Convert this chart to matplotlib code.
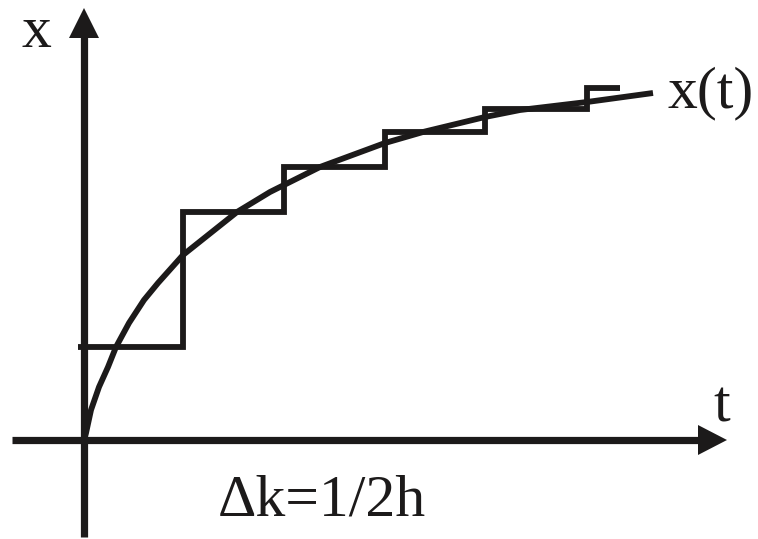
import numpy as np
import matplotlib.pyplot as plt

# curve x(t) (t to the right, x upwards, origin at the axes crossing)
curve_t = [0, 2, 7, 15, 24, 32, 45, 60, 74, 99, 153, 186, 236, 301, 339, 401, 436, 503, 569]
curve_x = [0, 7, 30, 53, 73, 93, 117, 140, 157, 185, 228, 248, 273, 297, 308, 323, 330, 338, 347]

# staircase approximation
step_edges = [-6, 99, 200, 301, 401, 503, 536]
step_levels = [93, 228, 273, 308, 331, 352]

ink = '#1c1a1a'
fnt = 'Liberation Serif'

fig = plt.figure(figsize=(7.58, 5.39), dpi=100)
ax = fig.add_axes([0, 0, 1, 1])
ax.set_xlim(-84, 674)
ax.set_ylim(-99, 440)
ax.axis('off')

# axes with arrow heads
ax.plot([-72, 616], [0, 0], color=ink, lw=5.2, solid_capstyle='butt')
ax.fill([614, 643, 614], [-15, 0, 15], color=ink, lw=0)
ax.plot([0, 0], [-97, 404], color=ink, lw=5.2, solid_capstyle='butt')
ax.fill([-15, 0, 15], [402, 432, 402], color=ink, lw=0)

ax.stairs(step_levels, step_edges, baseline=None, color=ink, lw=4.2, joinstyle='miter')
ax.plot(curve_t, curve_x, color=ink, lw=4.2, solid_joinstyle='round', solid_capstyle='butt')

ax.text(-48, 393, 'x', fontsize=43, family=fnt, color=ink, ha='center', va='baseline')
ax.text(638, 18, 't', fontsize=43, family=fnt, color=ink, ha='center', va='baseline')
ax.text(584, 333, 'x(t)', fontsize=43, family=fnt, color=ink, ha='left', va='baseline')
ax.text(134, -75, 'Δk=1/2h', fontsize=43, family=fnt, color=ink, ha='left', va='baseline')

fig.savefig('out.png', dpi=100)
